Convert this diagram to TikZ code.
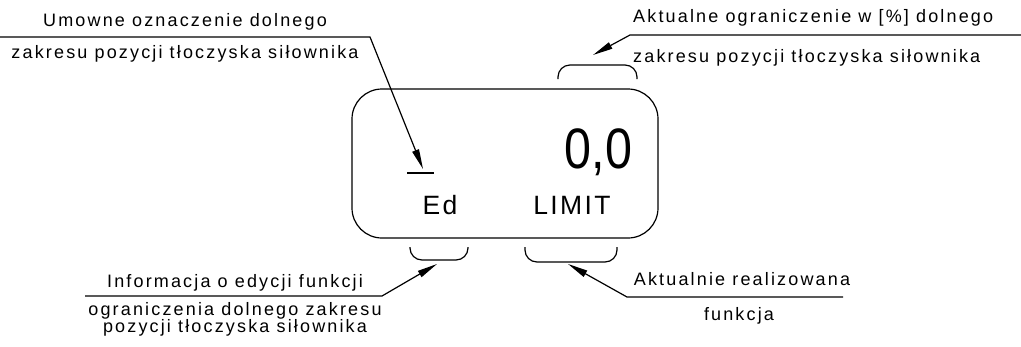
\documentclass[tikz,border=0pt]{standalone}
\usepackage{fontspec}
\setmainfont{Liberation Sans}
\newfontfamily\lblfont{Liberation Sans}[LetterSpace=12]
\newfontfamily\dispfont{Liberation Sans}[LetterSpace=9]
\newfontfamily\digfont{Liberation Sans}
\usetikzlibrary{arrows.meta}
\begin{document}
\begin{tikzpicture}[x=1pt,y=-1pt,
  lbl/.style={font=\lblfont\fontsize{18}{21}\selectfont, inner sep=0pt, anchor=base},
  disp/.style={font=\dispfont\fontsize{26.5}{30}\selectfont, inner sep=0pt, anchor=base},
  ln/.style={line width=1.2pt},
  arr/.style={ln, -{Triangle[length=20pt,width=7pt]}},
  brace/.style={ln, rounded corners=12pt}]
\useasboundingbox (0,0) rectangle (1021,346);

% display
\node[draw, ln, rounded corners=30pt, minimum width=306pt, minimum height=149pt] (lcd) at (505,163.5) {};
\node[font=\digfont\fontsize{57}{60}\selectfont, inner sep=0pt, anchor=base] (val) at (598.5,168) {\scalebox{0.85}[1]{0,0}};
\node[disp] (ed) at (440,214) {Ed};
\node[disp] (limit) at (572,214) {LIMIT};
\coordinate (und1) at (407,173);
\coordinate (und2) at (434,173);
\draw[ln] (und1) -- (und2);

% braces
\draw[brace] (558,79) -- (558,65) -- (637,65) -- (637,79);
\draw[brace] (410,247) -- (410,260) -- (468,260) -- (468,247);
\draw[brace] (525,247) -- (525,262) -- (617,262) -- (617,247);

% top-left label
\node[lbl] (tl1) at (185,26) {Umowne oznaczenie dolnego};
\node[lbl] (tl2) at (185,58) {zakresu pozycji tłoczyska siłownika};
\coordinate (tlA) at (0,37);
\coordinate (tlB) at (370,37);
\coordinate (tlC) at (423,169);
\draw[arr] (tlA) -- (tlB) -- (tlC);

% top-right label
\node[lbl, anchor=base west] (tr1) at (633,22) {Aktualne ograniczenie w [\%] dolnego};
\node[lbl, anchor=base west] (tr2) at (633,62) {zakresu pozycji tłoczyska siłownika};
\coordinate (trA) at (1021,35);
\coordinate (trB) at (630,35);
\coordinate (trC) at (593,55);
\draw[arr] (trA) -- (trB) -- (trC);

% bottom-left label
\node[lbl] (bl1) at (235,287) {Informacja o edycji funkcji};
\node[lbl] (bl2) at (235,315) {ograniczenia dolnego zakresu};
\node[lbl] (bl3) at (235,332) {pozycji tłoczyska siłownika};
\coordinate (blA) at (85,296);
\coordinate (blB) at (382,296);
\coordinate (blC) at (437,264);
\draw[arr] (blA) -- (blB) -- (blC);

% bottom-right label
\node[lbl] (br1) at (742,285) {Aktualnie realizowana};
\node[lbl] (br2) at (739,320) {funkcja};
\coordinate (brA) at (843,297);
\coordinate (brB) at (627,297);
\coordinate (brC) at (568,264);
\draw[arr] (brA) -- (brB) -- (brC);
\end{tikzpicture}
\end{document}
